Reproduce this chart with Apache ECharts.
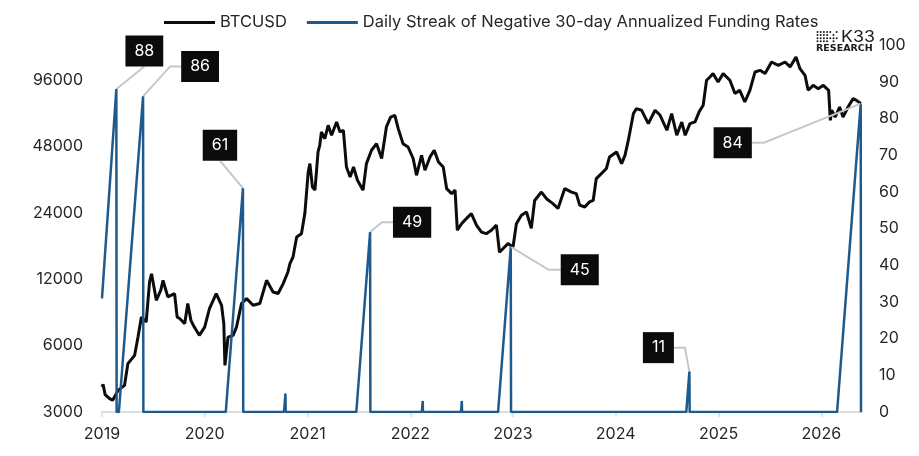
<!DOCTYPE html>
<html>
<head>
<meta charset="utf-8">
<script src="https://cdn.jsdelivr.net/npm/echarts@6/dist/echarts.min.js"></script>
<style>
  html, body { margin: 0; background: #fff; }
  #main { width: 919px; height: 456px; }
</style>
</head>
<body>
<div id="main"></div>
<script>
// BTCUSD (roughly every 2-3 weeks)
const btcDates = [
  '2019-01-01', '2019-01-05', '2019-01-12', '2019-01-28', '2019-02-08', '2019-02-27', '2019-03-22', '2019-04-03',
  '2019-04-27', '2019-05-09', '2019-05-21', '2019-06-07', '2019-06-19', '2019-06-26', '2019-07-05', '2019-07-13',
  '2019-07-29', '2019-08-06', '2019-08-23', '2019-09-16', '2019-09-25', '2019-10-04', '2019-10-22', '2019-11-02',
  '2019-11-13', '2019-11-25', '2019-12-13', '2020-01-01', '2020-01-18', '2020-02-11', '2020-03-01', '2020-03-09',
  '2020-03-13', '2020-03-24', '2020-04-11', '2020-04-23', '2020-05-11', '2020-05-29', '2020-06-21', '2020-07-15',
  '2020-08-08', '2020-08-31', '2020-09-18', '2020-10-06', '2020-10-23', '2020-10-30', '2020-11-10', '2020-11-23',
  '2020-12-10', '2020-12-22', '2021-01-03', '2021-01-09', '2021-01-18', '2021-01-27', '2021-02-07', '2021-02-13',
  '2021-02-19', '2021-03-03', '2021-03-15', '2021-03-27', '2021-04-14', '2021-04-26', '2021-05-08', '2021-05-19',
  '2021-06-01', '2021-06-13', '2021-06-27', '2021-07-17', '2021-07-29', '2021-08-16', '2021-09-03', '2021-09-21',
  '2021-10-08', '2021-10-23', '2021-11-07', '2021-11-19', '2021-12-06', '2021-12-24', '2022-01-11', '2022-01-23',
  '2022-02-10', '2022-02-22', '2022-03-12', '2022-03-27', '2022-04-11', '2022-04-28', '2022-05-10', '2022-05-28',
  '2022-06-09', '2022-06-17', '2022-07-02', '2022-07-25', '2022-08-06', '2022-08-24', '2022-09-11', '2022-09-28',
  '2022-10-16', '2022-11-03', '2022-11-14', '2022-12-02', '2022-12-14', '2023-01-01', '2023-01-13', '2023-01-31',
  '2023-02-18', '2023-03-07', '2023-03-19', '2023-04-12', '2023-04-30', '2023-05-23', '2023-06-10', '2023-07-04',
  '2023-07-28', '2023-08-14', '2023-08-26', '2023-09-13', '2023-09-30', '2023-10-13', '2023-10-24', '2023-11-11',
  '2023-11-29', '2023-12-10', '2024-01-04', '2024-01-22', '2024-02-03', '2024-02-15', '2024-03-04', '2024-03-15',
  '2024-04-02', '2024-04-26', '2024-05-20', '2024-06-07', '2024-07-01', '2024-07-18', '2024-08-05', '2024-08-23',
  '2024-09-04', '2024-09-21', '2024-10-09', '2024-10-24', '2024-11-07', '2024-11-19', '2024-12-01', '2024-12-12',
  '2024-12-30', '2025-01-17', '2025-02-10', '2025-02-28', '2025-03-17', '2025-04-04', '2025-04-22', '2025-05-10',
  '2025-05-28', '2025-06-15', '2025-07-08', '2025-08-01', '2025-08-25', '2025-09-12', '2025-10-03', '2025-10-17',
  '2025-11-04', '2025-11-15', '2025-12-03', '2025-12-21', '2026-01-08', '2026-01-27', '2026-02-02', '2026-02-07',
  '2026-02-19', '2026-03-07', '2026-03-19', '2026-04-06', '2026-04-24', '2026-05-06', '2026-05-21',
];
const btcPrices = [
  3900, 4000, 3600, 3450, 3390, 3760, 3960, 4970,
  5420, 6560, 8090, 7670, 11650, 12700, 11000, 9630,
  10700, 11860, 9970, 10330, 8090, 7960, 7550, 9310,
  7810, 7280, 6680, 7280, 8830, 10330, 9140, 7550,
  4880, 6560, 6680, 7280, 9310, 9800, 9140, 9310,
  11860, 10500, 10330, 11460, 12940, 14130, 15130, 18650,
  19300, 23800, 36700, 40100, 31400, 30400, 45300, 48500,
  55800, 52000, 59800, 53900, 61900, 55800, 56800, 38700,
  34900, 38700, 33700, 30400, 40100, 46100, 49400, 42300,
  58800, 65200, 66400, 57800, 49400, 47700, 42300, 35500,
  43700, 37400, 43000, 46100, 40800, 38700, 30900, 29300,
  30400, 20000, 21400, 23000, 23800, 21100, 19600, 19300,
  20000, 21100, 15900, 16800, 17400, 16800, 21400, 23400,
  24200, 20400, 27300, 29800, 27800, 26400, 25100, 30900,
  29800, 29300, 26000, 25500, 26900, 27300, 34300, 36100,
  38100, 43000, 45300, 40100, 43700, 51200, 67600, 71200,
  70000, 60900, 70000, 66400, 56800, 67600, 53900, 61900,
  53900, 60900, 62000, 69000, 73700, 95700, 99000, 102600,
  94000, 102600, 95700, 83300, 86200, 76300, 86200, 104300,
  106200, 102600, 115800, 111900, 115800, 110000, 122000, 108000,
  100800, 86200, 90800, 87700, 90800, 86200, 63000, 70000,
  65200, 72400, 65200, 72400, 79000, 77600, 75100,
];

// daily streak of negative 30-day annualized funding (days)
const streakDates = [
  '2019-01-01', '2019-02-21', '2019-02-22', '2019-03-02', '2019-05-27', '2019-05-28',
  '2020-03-16', '2020-05-16', '2020-05-17', '2020-10-09', '2020-10-14', '2020-10-15',
  '2021-06-23', '2021-08-11', '2021-08-12', '2022-02-11', '2022-02-14', '2022-02-15',
  '2022-06-30', '2022-07-03', '2022-07-04', '2022-11-09', '2022-12-24', '2022-12-25',
  '2024-09-08', '2024-09-19', '2024-09-20', '2026-02-26', '2026-05-21', '2026-05-22',
];
const streakValues = [
  31, 88, 0, 0, 86, 0,
  0, 61, 0, 0, 5, 0,
  0, 49, 0, 0, 3, 0,
  0, 3, 0, 0, 45, 0,
  0, 11, 0, 0, 84, 0,
];

// left axis doubles each step: 3000, 6000, ... 96000
const leftTicks = [3000, 6000, 12000, 24000, 48000, 96000];
const leftTop = 138300;

// peaks that get a callout box
const calloutDates = ['2019-02-21', '2019-05-27', '2020-05-16', '2021-08-11', '2022-12-24', '2024-09-19', '2026-05-21'];
// box centre relative to its peak (px) and length of the flat bit of the leader
const calloutOffsets = [[28, -38], [57, -30], [-23, -43], [42, -10], [69, 23], [-31, -24], [-128, 39]];
const calloutLen2 = [0, 11, 0, 11, 12, 11, 12];

const FONT = 'Inter, "Noto Sans", sans-serif';
const TEXT = '#262626';

// log2 steps above 3000 so the value axis acts as the base-2 log scale
const btcLog = btcPrices.map((p) => Math.log2(p / leftTicks[0]));

const streakData = streakDates.map((d, i) => {
  const k = calloutDates.indexOf(d);
  if (k < 0) return [d, streakValues[i]];
  return {
    value: [d, streakValues[i]],
    label: { show: true },
    labelLine: { show: true, length2: calloutLen2[k] },
  };
});

// little K33 logo dot grid
const logoDots = [];
const dotRows = ['1111101', '1111010', '1111111', '1111010'];
dotRows.forEach((row, r) => {
  row.split('').forEach((c, j) => {
    if (c === '1') {
      logoDots.push({
        type: 'circle',
        shape: { cx: 817.5 + j * 3.2, cy: 32 + r * 3.1, r: 1 },
        style: { fill: '#1a1a1a' },
        silent: true,
      });
    }
  });
});

const myChart = echarts.init(document.getElementById('main'));

const option = {
  animation: false,
  legend: {
    top: 9,
    left: 159,
    icon: 'rect',
    itemWidth: 51,
    itemHeight: 3,
    itemGap: 20,
    textStyle: { fontSize: 16.5, color: TEXT, fontFamily: FONT },
  },
  grid: {
    left: 102,
    right: 58,
    top: 45,
    bottom: 44,
  },
  xAxis: {
    type: 'time',
    min: '2019-01-01',
    max: '2026-05-22',
    minInterval: 365 * 24 * 3600 * 1000,
    maxInterval: 366 * 24 * 3600 * 1000,
    axisLine: { lineStyle: { color: '#d9dee5', width: 2 } },
    axisTick: { show: true, length: 5, lineStyle: { color: '#d9dee5', width: 1.5 } },
    splitLine: { show: false },
    axisLabel: {
      formatter: '{yyyy}',
      fontSize: 16,
      color: TEXT,
      fontFamily: FONT,
      margin: 14,
    },
  },
  yAxis: [
    {
      type: 'value',
      min: 0,
      max: Math.log2(leftTop / leftTicks[0]),
      interval: 1,
      position: 'left',
      axisLine: { show: false },
      axisTick: { show: false },
      splitLine: { show: false },
      axisLabel: {
        margin: 19,
        fontSize: 16,
        color: TEXT,
        fontFamily: FONT,
        formatter: (v) => {
          const k = Math.round(v);
          if (Math.abs(v - k) > 1e-6 || k >= leftTicks.length) return '';
          return String(leftTicks[k]);
        },
      },
    },
    {
      type: 'value',
      min: 0,
      max: 100,
      interval: 10,
      position: 'right',
      axisLine: { show: false },
      axisTick: { show: false },
      splitLine: { show: false },
      axisLabel: { margin: 18, fontSize: 16, color: TEXT, fontFamily: FONT },
    },
  ],
  series: [
    {
      name: 'BTCUSD',
      type: 'line',
      yAxisIndex: 0,
      showSymbol: false,
      color: '#0c0c0c',
      lineStyle: { color: '#0c0c0c', width: 3 },
      data: btcDates.map((d, i) => [d, btcLog[i]]),
    },
    {
      name: 'Daily Streak of Negative 30-day Annualized Funding Rates',
      type: 'line',
      yAxisIndex: 1,
      symbol: 'circle',
      symbolSize: 1,
      showSymbol: true,
      showAllSymbol: true,
      color: '#1f5a8c',
      lineStyle: { color: '#1f5a8c', width: 2.5 },
      label: {
        show: false,
        formatter: (p) => String(p.value[1]),
        backgroundColor: '#0b0b0b',
        color: '#fff',
        fontSize: 16,
        fontFamily: FONT,
        padding: [8, 9, 7, 9],
      },
      labelLine: {
        show: true,
        smooth: false,
        minTurnAngle: 0,
        lineStyle: { color: '#c4c8cd', width: 2 },
      },
      labelLayout: (p) => {
        const k = calloutDates.indexOf(streakDates[p.dataIndex]);
        if (k < 0) return {};
        return {
          x: p.rect.x + p.rect.width / 2 + calloutOffsets[k][0],
          y: p.rect.y + p.rect.height / 2 + calloutOffsets[k][1],
          align: 'center',
          verticalAlign: 'middle',
        };
      },
      data: streakData,
    },
  ],
  graphic: [
    {
      type: 'text',
      x: 841,
      y: 29,
      scaleX: 1.15,
      silent: true,
      style: { text: 'K33', fontSize: 15.5, fill: '#1a1a1a', fontFamily: FONT },
    },
    {
      type: 'text',
      x: 816,
      y: 44,
      silent: true,
      style: {
        text: 'RESEARCH',
        fontSize: 9.5,
        fontWeight: 'bold',
        fontFamily: '"DejaVu Sans"',
        fill: '#1a1a1a',
      },
    },
    ...logoDots,
  ],
};

myChart.setOption(option);
</script>
</body>
</html>
